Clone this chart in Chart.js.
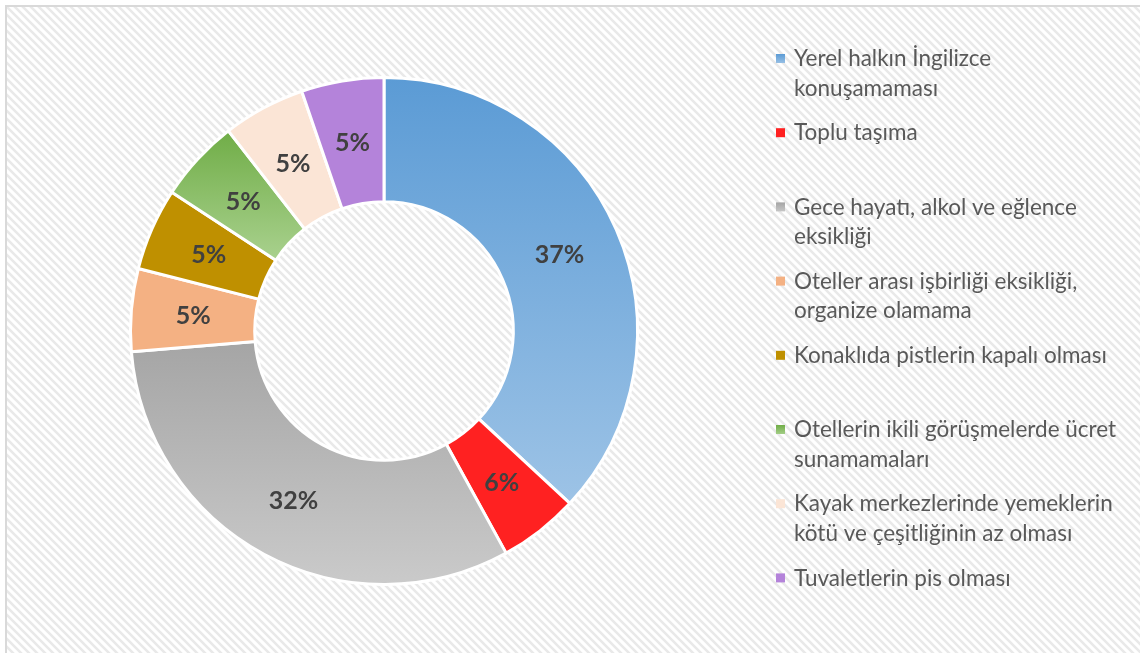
<!DOCTYPE html>
<html>
<head>
<meta charset="utf-8">
<script src="https://cdn.jsdelivr.net/npm/chart.js@4"></script>
<style>
  html, body { margin: 0; padding: 0; background: #fff; }
  #wrap { width: 1140px; height: 653px; }
</style>
</head>
<body>
<div id="wrap"><canvas id="chart" width="1140" height="653"></canvas></div>
<script>
// Slice categories (legend text, already split into lines like the original)
const categories = [
  ['Yerel halkın İngilizce', 'konuşamaması'],
  ['Toplu taşıma'],
  ['Gece hayatı, alkol ve eğlence', 'eksikliği'],
  ['Oteller arası işbirliği eksikliği,', 'organize olamama'],
  ['Konaklıda pistlerin kapalı olması'],
  ['Otellerin ikili görüşmelerde ücret', 'sunamamaları'],
  ['Kayak merkezlerinde yemeklerin', 'kötü ve çeşitliğinin az olması'],
  ['Tuvaletlerin pis olması'],
];

// slice sizes (percent of the ring)
const shares = [36.9, 5.1, 31.7, 5.26, 5.26, 5.26, 5.26, 5.26];

// data labels as printed on the slices
const pctLabels = ['37%', '6%', '32%', '5%', '5%', '5%', '5%', '5%'];

// top -> bottom colour of each slice (same colour = flat fill)
const topColors    = ['#5b9bd5', '#ff2121', '#a5a5a5', '#f4b183', '#bf9000', '#70ad47', '#fbe5d6', '#b483da'];
const bottomColors = ['#9dc3e6', '#ff2121', '#cacaca', '#f4b183', '#bf9000', '#a9d18e', '#fbe5d6', '#b483da'];

const FONT = "'Lato', 'Open Sans', sans-serif";

function sliceFill(ctx) {
  const i = ctx.dataIndex;
  const el = ctx.element;
  if (!el || !el.outerRadius || topColors[i] === bottomColors[i]) return topColors[i];
  // vertical extent of the annular sector
  let minY = Infinity, maxY = -Infinity;
  const steps = 40;
  for (let s = 0; s <= steps; s++) {
    const a = el.startAngle + (el.endAngle - el.startAngle) * s / steps;
    [el.innerRadius, el.outerRadius].forEach(r => {
      const y = el.y + r * Math.sin(a);
      minY = Math.min(minY, y);
      maxY = Math.max(maxY, y);
    });
  }
  const g = ctx.chart.ctx.createLinearGradient(0, minY, 0, maxY);
  g.addColorStop(0, topColors[i]);
  g.addColorStop(1, bottomColors[i]);
  return g;
}

// hatched card background with a thin frame
const backdrop = {
  id: 'backdrop',
  beforeDraw(chart) {
    const c = chart.ctx;
    c.save();
    c.fillStyle = '#fff';
    c.fillRect(0, 0, chart.width, chart.height);
    const tile = document.createElement('canvas');
    tile.width = 8; tile.height = 8;
    const t = tile.getContext('2d');
    t.strokeStyle = '#e9e9e9';
    t.lineWidth = 2.6;
    t.beginPath();
    t.moveTo(-2, -2); t.lineTo(10, 10);
    t.moveTo(-2, 6);  t.lineTo(2, 10);
    t.moveTo(6, -2);  t.lineTo(10, 2);
    t.stroke();
    c.fillStyle = c.createPattern(tile, 'repeat');
    c.fillRect(7, 7, chart.width, chart.height);
    c.strokeStyle = '#d9d9d9';
    c.lineWidth = 2;
    c.strokeRect(6, 6, chart.width + 10, chart.height + 10);
    c.restore();
  },
};

// percent labels on each slice
const sliceLabels = {
  id: 'sliceLabels',
  afterDatasetsDraw(chart) {
    const c = chart.ctx;
    c.save();
    c.font = `bold 25px ${FONT}`;
    c.fillStyle = '#404040';
    c.textAlign = 'center';
    c.textBaseline = 'middle';
    chart.getDatasetMeta(0).data.forEach((arc, i) => {
      const p = arc.tooltipPosition();
      c.fillText(pctLabels[i], p.x, p.y + 1);
    });
    c.restore();
  },
};

// legend on the right, one fixed slot per entry
const sideLegend = {
  id: 'sideLegend',
  afterDraw(chart) {
    const c = chart.ctx;
    const x0 = 776, y0 = 59, slot = 74.2, lineH = 29.5;
    c.save();
    c.font = `22.5px ${FONT}`;
    c.textBaseline = 'middle';
    categories.forEach((lines, i) => {
      const y = y0 + i * slot;
      const g = c.createLinearGradient(0, y - 5, 0, y + 5);
      g.addColorStop(0, topColors[i]);
      g.addColorStop(1, bottomColors[i]);
      c.fillStyle = g;
      c.fillRect(x0, y - 5, 9, 9);
      c.fillStyle = '#595959';
      lines.forEach((txt, k) => c.fillText(txt, x0 + 18, y + k * lineH));
    });
    c.restore();
  },
};

// second pass so gradients can use the laid-out arc geometry
const regrad = {
  id: 'regrad',
  afterRender(chart) {
    if (chart.$gradDone) return;
    chart.$gradDone = true;
    setTimeout(() => chart.update('none'), 0);
  },
};

new Chart(document.getElementById('chart'), {
  type: 'doughnut',
  data: {
    labels: categories,
    datasets: [{
      data: shares,
      backgroundColor: sliceFill,
      borderColor: '#ffffff',
      borderWidth: 3,
      hoverOffset: 0,
    }],
  },
  options: {
    responsive: false,
    animation: false,
    cutout: '51%',
    layout: { padding: { left: 129, right: 501, top: 76, bottom: 67 } },
    plugins: {
      legend: { display: false },
      tooltip: { enabled: false },
    },
  },
  plugins: [backdrop, sliceLabels, sideLegend, regrad],
});
</script>
</body>
</html>
